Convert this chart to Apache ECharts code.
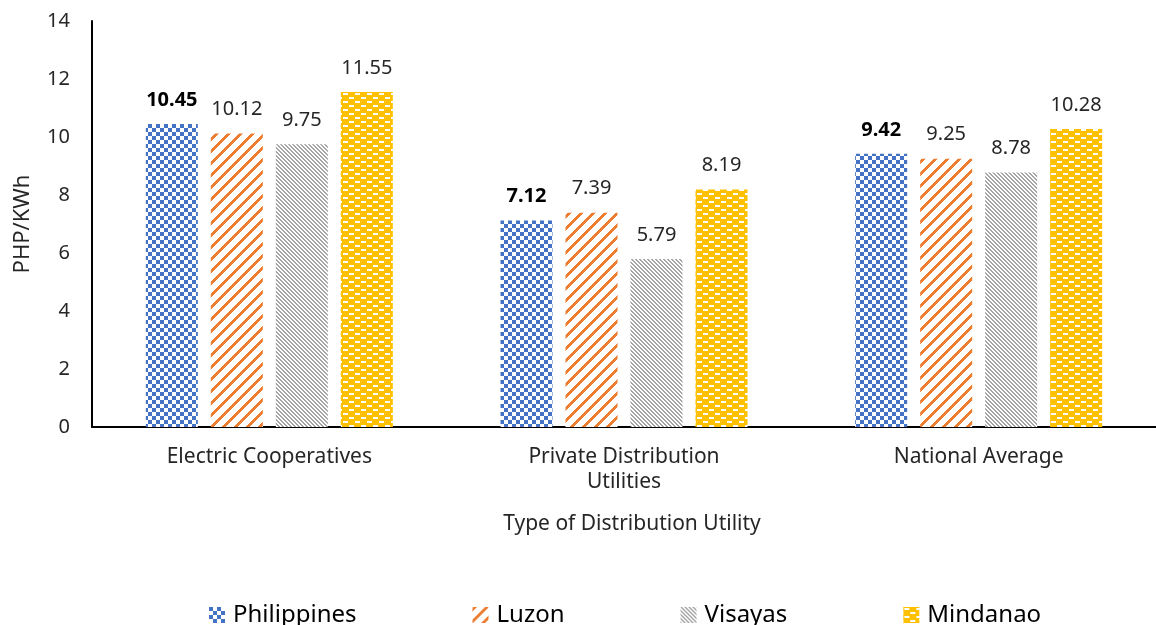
<!DOCTYPE html>
<html>
<head>
<meta charset="utf-8">
<script src="https://cdn.jsdelivr.net/npm/echarts@6/dist/echarts.min.js"></script>
<style>
  html, body { margin: 0; padding: 0; background: #fff; }
  #chart { width: 1156px; height: 625px; }
</style>
</head>
<body>
<div id="chart"></div>
<script>
// ---------- Data ----------
const categories = ['Electric Cooperatives', 'Private Distribution\nUtilities', 'National Average'];
const seriesNames = ['Philippines', 'Luzon', 'Visayas', 'Mindanao'];
const philippines = [10.45, 7.12, 9.42];
const luzon = [10.12, 7.39, 9.25];
const visayas = [9.75, 5.79, 8.78];
const mindanao = [11.55, 8.19, 10.28];
const yTicks = { min: 0, max: 14, interval: 2 };

const FONT = '"Noto Sans", "Open Sans", sans-serif';
const TEXT = '#262626';

// ---------- Pixel fill patterns ----------
function tile(w, h, bg, fg, test) {
  const c = document.createElement('canvas');
  c.width = w; c.height = h;
  const ctx = c.getContext('2d');
  ctx.fillStyle = bg;
  ctx.fillRect(0, 0, w, h);
  ctx.fillStyle = fg;
  for (let y = 0; y < h; y++) {
    for (let x = 0; x < w; x++) {
      if (test(x, y)) ctx.fillRect(x, y, 1, 1);
    }
  }
  return { image: c, repeat: 'repeat' };
}

const patterns = [
  // small checkerboard
  tile(8, 8, '#fff', '#4472C4', (x, y) => ((x >> 2) + (y >> 2)) % 2 === 0),
  // wide upward diagonal
  tile(12, 12, '#fff', '#ED7D31', (x, y) => (x + y) % 12 < 4),
  // dark downward diagonal
  tile(4, 4, '#fff', '#A5A5A5', (x, y) => ((x - y) % 4 + 4) % 4 < 2),
  // yellow with staggered white dashes
  tile(12, 8, '#FFC000', '#fff', (x, y) =>
    (y >= 1 && y < 3 && x >= 1 && x < 6) || (y >= 5 && y < 7 && x >= 7 && x < 12)),
];

const values = [philippines, luzon, visayas, mindanao];

const chart = echarts.init(document.getElementById('chart'), null, { renderer: 'canvas' });

chart.setOption({
  animation: false,
  backgroundColor: '#fff',
  textStyle: { fontFamily: FONT },
  grid: { left: 92, top: 21, width: 1080, bottom: 198, containLabel: false },
  legend: {
    data: seriesNames,
    left: 204,
    top: 598,
    itemWidth: 16,
    itemHeight: 16,
    itemGap: 116,
    icon: 'rect',
    textStyle: { fontSize: 24, color: '#000', fontFamily: FONT, padding: [0, 0, 0, 3] },
  },
  xAxis: {
    type: 'category',
    data: categories,
    axisLine: { lineStyle: { color: '#000', width: 2 } },
    axisTick: { show: false },
    axisLabel: {
      interval: 0, fontSize: 21, color: TEXT, margin: 18, lineHeight: 25,
      verticalAlign: 'top', fontFamily: FONT,
    },
  },
  yAxis: {
    type: 'value',
    min: yTicks.min,
    max: yTicks.max,
    interval: yTicks.interval,
    axisLine: { show: true, lineStyle: { color: '#000', width: 2 } },
    axisTick: { show: false },
    splitLine: { show: false },
    axisLabel: { fontSize: 20, color: TEXT, margin: 22, fontFamily: FONT },
  },
  graphic: [
    {
      type: 'text', x: 23, y: 224, rotation: Math.PI / 2,
      style: { text: 'PHP/KWh', font: '22px ' + FONT, fill: TEXT, align: 'center', verticalAlign: 'middle' },
    },
    {
      type: 'text', x: 632, y: 524,
      style: { text: 'Type of Distribution Utility', font: '21px ' + FONT, fill: TEXT, align: 'center', verticalAlign: 'middle' },
    },
  ],
  series: seriesNames.map((name, i) => ({
    name,
    type: 'bar',
    data: values[i],
    barWidth: 52,
    barGap: '25%',
    itemStyle: { color: patterns[i] },
    label: {
      show: true,
      position: 'top',
      distance: 14,
      fontSize: 20,
      fontFamily: FONT,
      fontWeight: i === 0 ? 'bold' : 'normal',
      color: i === 0 ? '#000' : TEXT,
      formatter: (p) => p.value.toFixed(2),
    },
  })),
});
</script>
</body>
</html>
